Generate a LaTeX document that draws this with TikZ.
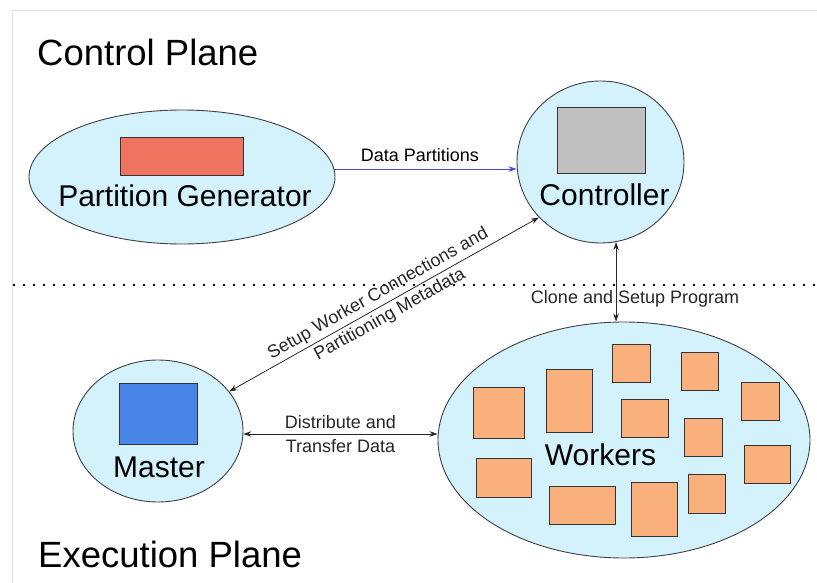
\documentclass[tikz,border=0pt]{standalone}
\usepackage{fontspec}
\setmainfont{Liberation Sans}
\usepackage{tikz}
\usetikzlibrary{positioning}
\usetikzlibrary{shapes.geometric,arrows.meta}

\definecolor{cyanfill}{RGB}{212,242,252}
\definecolor{pgred}{RGB}{240,116,96}
\definecolor{ctrlgray}{RGB}{192,192,192}
\definecolor{masterblue}{RGB}{74,134,232}
\definecolor{workerorange}{RGB}{250,176,124}
\definecolor{partblue}{RGB}{70,70,235}

\tikzset{
  region/.style={ellipse, draw=black!75, fill=cyanfill, line width=0.9pt, inner sep=0pt},
  fillbox/.style={draw=black!80, line width=0.9pt},
  bigtext/.style={font=\fontsize{30}{34}\selectfont, inner sep=0pt},
  planetext/.style={font=\fontsize{36.5}{40}\selectfont, inner sep=0pt},
  smalltext/.style={font=\fontsize{18}{24}\selectfont, align=center},
  oneway/.style={-{Stealth[length=8pt,width=5.5pt]}, line width=0.8pt},
  link/.style={{Stealth[length=8pt,width=5.5pt]}-{Stealth[length=8pt,width=5.5pt]}, line width=0.8pt, black!85},
}

\begin{document}
\begin{tikzpicture}[x=1pt,y=-1pt]
		\useasboundingbox (0,0) rectangle (817,583);
		% frame and planes
		\draw[gray!25, line width=1pt] (12,583) -- (12,11) -- (817,11);
		\node[planetext, anchor=base west] (cplane) at (37,66) {Control Plane};
		\node[planetext, anchor=base west] (eplane) at (38,567) {Execution Plane};
		\draw[line width=2.6pt, line cap=round, dash pattern=on 0pt off 10pt] (14,285) -- (817,285);
		% Partition Generator
		\node[region, minimum width=306pt, minimum height=134pt] (pg) at (182,177) {};
		\draw[fillbox, fill=pgred] (120,137) rectangle (243,175);
		\node[bigtext, anchor=base] (pgtext) at (185,207) {Partition Generator};
		% Controller
		\node[region, minimum width=167pt, minimum height=162pt] (ctrl) at (600.5,162) {};
		\draw[fillbox, fill=ctrlgray] (557,107) rectangle (645,173);
		\node[bigtext, anchor=base] (ctrltext) at (604.5,205) {Controller};
		% Master
		\node[region, minimum width=170pt, minimum height=142pt] (master) at (158,431) {};
		\draw[fillbox, fill=masterblue] (119,383) rectangle (197,444);
		\node[bigtext, anchor=base] (mastertext) at (159,477) {Master};
		% Workers
		\node[region, minimum width=372pt, minimum height=236pt] (workers) at (624,440) {};
		\draw[fillbox, fill=workerorange] (473,387) rectangle (524,438);
		\draw[fillbox, fill=workerorange] (546,369) rectangle (592,432);
		\draw[fillbox, fill=workerorange] (612,344) rectangle (650,382);
		\draw[fillbox, fill=workerorange] (681,352) rectangle (718,390);
		\draw[fillbox, fill=workerorange] (741,382) rectangle (779,420);
		\draw[fillbox, fill=workerorange] (621,399) rectangle (668,437);
		\draw[fillbox, fill=workerorange] (684,418) rectangle (722,456);
		\draw[fillbox, fill=workerorange] (744,445) rectangle (790,483);
		\draw[fillbox, fill=workerorange] (476,458) rectangle (531,497);
		\draw[fillbox, fill=workerorange] (549,486) rectangle (615,524);
		\draw[fillbox, fill=workerorange] (631,482) rectangle (677,536);
		\draw[fillbox, fill=workerorange] (688,474) rectangle (725,513);
		\node[bigtext, anchor=base] (workerstext) at (600.5,465) {Workers};
		% connections
		\draw[oneway, partblue] (pg.3) -- node[smalltext, black, pos=0.47, above=4pt] {Data Partitions} (pg.3 -| ctrl.west);
		\draw[link] (ctrl.281) -- node[smalltext, pos=0.72, xshift=19pt] {Clone and Setup Program} (ctrl.281 |- workers.north);
		\draw[link] (master.29) -- node[smalltext, sloped] {Setup Worker Connections and\\Partitioning Metadata} (ctrl.222);
		\draw[link] (master.-2) -- node[smalltext] {Distribute and\\Transfer Data} (master.-2 -| workers.west);
	\end{tikzpicture}
\end{document}
